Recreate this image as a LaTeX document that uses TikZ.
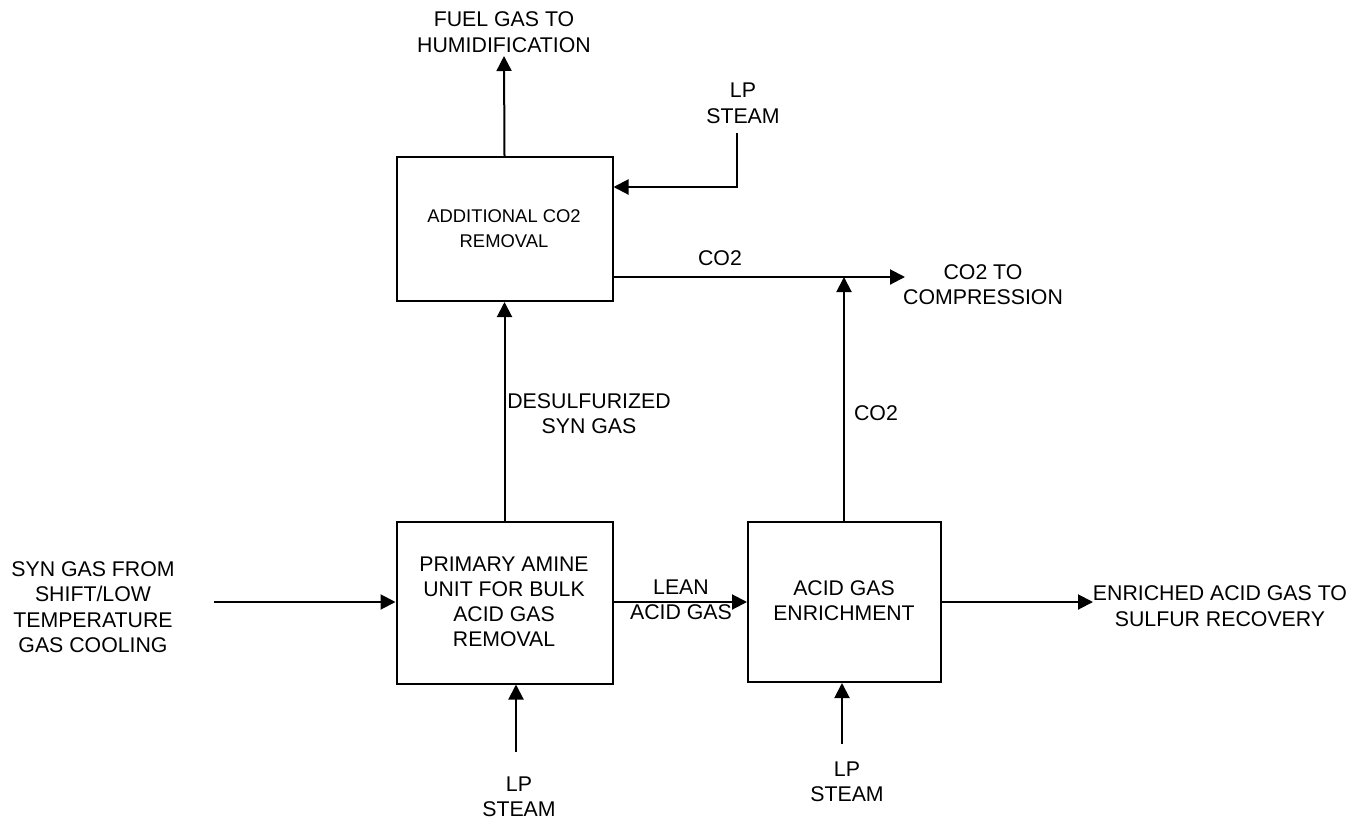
\documentclass[tikz,border=0pt]{standalone}
\usepackage{fontspec}
\setmainfont{Liberation Sans}
\usetikzlibrary{arrows.meta}
\begin{document}
\begin{tikzpicture}[x=1pt,y=-1pt,
  line width=2pt,
  flow/.style={-{Triangle[length=15pt,width=15pt]}},
  unit/.style={draw,line width=2pt,inner sep=0pt},
  lbl/.style={align=center,font=\fontsize{21.3}{25.5}\selectfont,inner sep=0pt},
  boxlbl/.style={align=center,font=\fontsize{21.2}{25}\selectfont,inner sep=0pt},
  smallbox/.style={align=center,font=\fontsize{18.4}{25}\selectfont,inner sep=0pt}]
\useasboundingbox (0,0) rectangle (1363,825);
% units
\node[unit,minimum width=216pt,minimum height=144pt] (add) at (504.5,229) {};
\node[unit,minimum width=216pt,minimum height=162pt] (prim) at (504.5,602.5) {};
\node[unit,minimum width=193pt,minimum height=160pt] (enr) at (844.5,602) {};
\node[smallbox] (addt) at (504,229) {ADDITIONAL CO2\\REMOVAL};
\node[boxlbl] (primt) at (504,601.5) {PRIMARY AMINE\\UNIT FOR BULK\\ACID GAS\\REMOVAL};
\node[boxlbl] (enrt) at (844,601) {ACID GAS\\ENRICHMENT};
% labels
\node[lbl] (fuel) at (504,32) {FUEL GAS TO\\HUMIDIFICATION};
\node[lbl] (lp1) at (743,103.5) {LP\\STEAM};
\node[lbl] (co2a) at (720,258) {CO2};
\node[lbl] (co2c) at (983,284.5) {CO2 TO\\COMPRESSION};
\node[lbl] (co2b) at (876,413) {CO2};
\node[lbl] (desul) at (589,413.5) {DESULFURIZED\\SYN GAS};
\node[lbl] (syn) at (93,607) {SYN GAS FROM\\SHIFT/LOW\\TEMPERATURE\\GAS COOLING};
\node[lbl] (lean) at (681,600) {LEAN\\ACID GAS};
\node[lbl] (enrl) at (1220,606) {ENRICHED ACID GAS TO\\SULFUR RECOVERY};
\node[lbl] (lp2) at (519,797) {LP\\STEAM};
\node[lbl] (lp3) at (847,782) {LP\\STEAM};
% coordinates
\coordinate (fuelend) at (504,56);
\coordinate (lp1s) at (737,133);
\coordinate (co2end) at (905,277);
\coordinate (synst) at (214,602);
\coordinate (enrend) at (1093,602);
\coordinate (lp2s) at (516,752);
\coordinate (lp3s) at (842,744);
% connectors
\draw[flow] (add.north) -- (fuelend);
\draw[flow] (lp1s) |- (add.north east |- 0,187);
\draw[flow] (add.east |- 0,277) -- (co2end);
\draw[flow] (enr.north -| 844,0) -- (844,277);
\draw[flow] (prim.north) -- (add.south);
\draw[flow] (synst) -- (prim.west |- synst);
\draw[flow] (prim.east |- 0,602) -- (enr.west |- 0,602);
\draw[flow] (enr.east |- 0,602) -- (enrend);
\draw[flow] (lp2s) -- (lp2s |- prim.south);
\draw[flow] (lp3s) -- (lp3s |- enr.south);
\end{tikzpicture}
\end{document}
